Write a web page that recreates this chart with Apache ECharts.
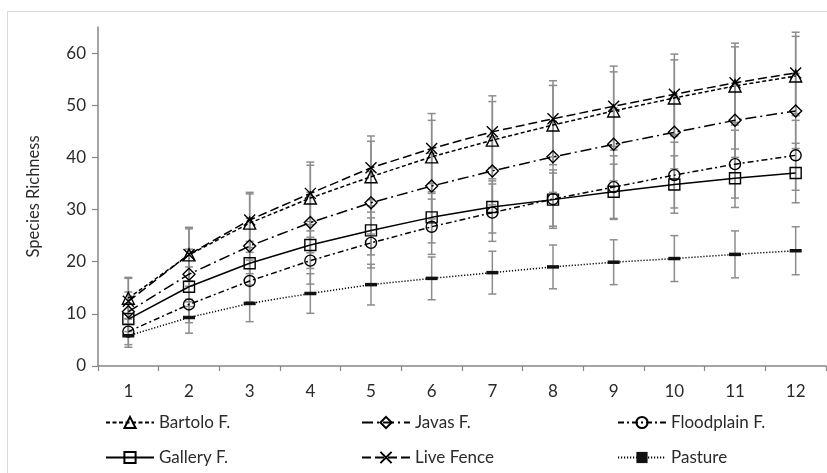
<!DOCTYPE html>
<html>
<head>
<meta charset="utf-8">
<script src="https://cdn.jsdelivr.net/npm/echarts@6/dist/echarts.min.js"></script>
<style>
    html, body { margin: 0; padding: 0; background: #fff; }
    #chart { width: 827px; height: 473px; }
</style>
</head>
<body>
<div id="chart"></div>
<script>
const categories = ['1', '2', '3', '4', '5', '6', '7', '8', '9', '10', '11', '12'];
const yTicks = [0, 10, 20, 30, 40, 50, 60];

const bartolo = [13.0, 21.3, 27.4, 32.2, 36.3, 40.1, 43.3, 46.2, 48.9, 51.4, 53.7, 55.6];
const javas = [10.4, 17.6, 23.0, 27.5, 31.3, 34.5, 37.4, 40.1, 42.5, 44.8, 47.1, 48.9];
const floodplain = [6.6, 11.8, 16.3, 20.2, 23.6, 26.7, 29.4, 32.0, 34.3, 36.6, 38.7, 40.4];
const gallery = [9.0, 15.2, 19.7, 23.2, 26.0, 28.5, 30.5, 31.9, 33.4, 34.8, 36.0, 37.0];
const liveFence = [12.4, 21.4, 28.0, 33.1, 38.0, 41.7, 44.9, 47.4, 49.8, 52.1, 54.3, 56.2];
const pasture = [5.8, 9.3, 12.0, 13.9, 15.6, 16.8, 17.9, 19.0, 19.9, 20.6, 21.4, 22.1];

// +/- error per point
const bartoloErr = [4.0, 5.0, 5.6, 6.3, 6.8, 7.0, 7.4, 7.6, 7.5, 7.3, 7.5, 7.6];
const javasErr = [3.8, 4.8, 5.3, 5.8, 6.0, 6.3, 6.5, 6.8, 7.0, 7.0, 7.1, 7.2];
const floodplainErr = [2.5, 3.5, 4.0, 4.5, 4.8, 5.3, 5.5, 5.6, 6.0, 6.3, 6.5, 6.7];
const galleryErr = [3.0, 3.8, 4.2, 4.5, 4.7, 4.9, 5.0, 5.1, 5.3, 5.5, 5.6, 5.7];
const liveFenceErr = [4.4, 5.2, 5.3, 6.0, 6.1, 6.7, 6.9, 7.3, 7.7, 7.7, 7.6, 7.8];
const pastureErr = [2.2, 3.0, 3.5, 3.8, 3.9, 4.1, 4.1, 4.2, 4.3, 4.4, 4.5, 4.6];

const legendOrder = ['Bartolo F.', 'Javas F.', 'Floodplain F.', 'Gallery F.', 'Live Fence', 'Pasture'];

const font = 'Lato, "Open Sans", sans-serif';
const textColor = '#2b2b2b';
const axisColor = '#878787';

const lines = [
    { name: 'Bartolo F.', data: bartolo, err: bartoloErr, dash: [4, 2.5], symbol: 'triangle', size: 12 },
    { name: 'Javas F.', data: javas, err: javasErr, dash: [11, 4, 2, 4], symbol: 'diamond', size: 12 },
    { name: 'Floodplain F.', data: floodplain, err: floodplainErr, dash: [6, 3, 2, 3], symbol: 'circle', size: 11 },
    { name: 'Gallery F.', data: gallery, err: galleryErr, dash: 'solid', symbol: 'rect', size: 11 },
    { name: 'Live Fence', data: liveFence, err: liveFenceErr, dash: [9, 4], symbol: 'path://M0,0L10,10M10,0L0,10', size: 11 },
    { name: 'Pasture', data: pasture, err: pastureErr, dash: [1.2, 1.8], symbol: 'rect', size: [12, 3.5], filled: true }
];

const errData = [];
lines.forEach(function (s) {
    s.data.forEach(function (v, i) {
        errData.push([i, v - s.err[i], v + s.err[i]]);
    });
});

const series = [{
    type: 'custom',
    name: 'err',
    z: 1,
    silent: true,
    data: errData,
    encode: { x: 0, y: [1, 2] },
    renderItem: function (params, api) {
        const lo = api.coord([api.value(0), api.value(1)]);
        const hi = api.coord([api.value(0), api.value(2)]);
        const st = { stroke: '#8c8c8c', lineWidth: 1.5 };
        const w = 4;
        return {
            type: 'group',
            children: [
                { type: 'line', shape: { x1: lo[0], y1: lo[1], x2: hi[0], y2: hi[1] }, style: st },
                { type: 'line', shape: { x1: lo[0] - w, y1: lo[1], x2: lo[0] + w, y2: lo[1] }, style: st },
                { type: 'line', shape: { x1: hi[0] - w, y1: hi[1], x2: hi[0] + w, y2: hi[1] }, style: st }
            ]
        };
    }
}];

lines.forEach(function (s) {
    series.push({
        type: 'line',
        name: s.name,
        z: 3,
        data: s.data,
        symbol: s.symbol,
        symbolSize: s.size,
        showAllSymbol: true,
        lineStyle: { color: '#000', width: 1.5, type: s.dash },
        itemStyle: {
            color: s.filled ? '#111' : 'rgba(255,255,255,0)',
            borderColor: '#000',
            borderWidth: s.filled ? 0 : 1.4
        },
        emphasis: { disabled: true }
    });
});

const chart = echarts.init(document.getElementById('chart'));
chart.setOption({
    animation: false,
    backgroundColor: '#fff',
    graphic: [{
        type: 'rect',
        shape: { x: 7.5, y: 11.5, width: 840, height: 480 },
        style: { fill: 'none', stroke: '#d9d9d9', lineWidth: 1 },
        z: -1
    }],
    grid: { left: 98, right: 1, top: 27, bottom: 107 },
    legend: {
        orient: 'horizontal',
        left: 105,
        top: 411,
        width: 760,
        padding: 0,
        itemWidth: 48,
        itemHeight: 14,
        itemGap: 12,
        data: legendOrder,
        textStyle: { fontFamily: font, fontSize: 17, color: textColor, width: 190, height: 23, lineHeight: 23 }
    },
    xAxis: {
        type: 'category',
        data: categories,
        boundaryGap: true,
        axisLine: { lineStyle: { color: axisColor, width: 1.5 } },
        axisTick: { show: true, length: 5, lineStyle: { color: axisColor, width: 1.2 } },
        axisLabel: { margin: 17, fontFamily: font, fontSize: 17, color: textColor }
    },
    yAxis: {
        type: 'value',
        min: 0,
        max: 65,
        name: 'Species Richness',
        nameLocation: 'middle',
        nameGap: 56,
        nameTextStyle: { fontFamily: font, fontSize: 16.5, color: textColor },
        axisLine: { show: true, lineStyle: { color: axisColor, width: 1.5 } },
        axisTick: { show: true, length: 6, customValues: yTicks, lineStyle: { color: axisColor, width: 1.2 } },
        axisLabel: { margin: 12, customValues: yTicks, fontFamily: font, fontSize: 17, color: textColor },
        splitLine: { show: false }
    },
    series: series
});
</script>
</body>
</html>
